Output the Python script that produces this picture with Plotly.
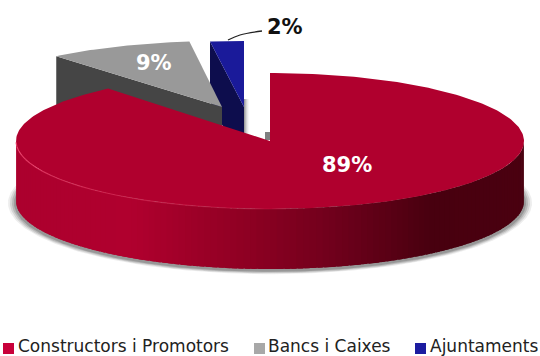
import numpy as np
import plotly.graph_objects as go

# Shares of each group, in percent
categories = ["Constructors i Promotors", "Bancs i Caixes", "Ajuntaments"]
shares = [89, 9, 2]
share_labels = ["89%", "9%", "2%"]

top_colors = ["#B0002E", "#999999", "#1A1A9A"]
cut_colors = ["#8B0022", "#454545", "#0D0D4D"]
swatch_colors = ["#C8003A", "#A8A8A8", "#1C1CA0"]

# Pie geometry on a pixel-sized canvas
W, H = 540, 356
CX, CY, RX, RY = 270, 141, 254, 68
DEPTH = 60
explode = [(0, 0), (-48, -34), (-26, -34)]
slice_radius = [(RX, RY), (260, 66), (271, 66)]

fracs = np.array(shares) / sum(shares)
ends = np.cumsum(fracs) * 2 * np.pi
starts = ends - fracs * 2 * np.pi


def rim(t0, t1, dx=0, dy=0, rx=RX, ry=RY, n=160):
    t = np.linspace(t0, t1, n)
    return CX + dx + rx * np.sin(t), CY + dy - ry * np.cos(t)


def poly(xs, ys, color, opacity=1.0):
    return go.Scatter(
        x=list(xs), y=list(ys), mode="lines", fill="toself", fillcolor=color,
        line=dict(width=0, color=color), opacity=opacity,
        hoverinfo="skip", showlegend=False,
    )


def lerp_color(stops, pos):
    xs = [s[0] for s in stops]
    rgb = [np.interp(pos, xs, [s[1][i] for s in stops]) for i in range(3)]
    return "rgb(%d,%d,%d)" % tuple(int(round(v)) for v in rgb)


fig = go.Figure()

# Soft ground shadow below the main slice
for grow, alpha in [(8, 0.10), (6, 0.16), (4, 0.22), (2, 0.30)]:
    t = np.linspace(0.3 * np.pi, 1.7 * np.pi, 240)
    sx = CX + (RX + grow) * np.sin(t)
    sy = CY + DEPTH + 2 + (RY + grow * 0.4) * -np.cos(t)
    fig.add_trace(poly(sx, sy, "#505050", alpha))

# Faint shadows in the gap next to the exploded slices
bx = CX + explode[2][0]
by = CY + explode[2][1]
for i, alpha in enumerate([0.6, 0.42, 0.26, 0.14, 0.06]):
    fig.add_trace(poly([bx + i, bx + i + 1, bx + i + 1, bx + i],
                       [by - 8, by - 8, by + 27, by + 27], "#606060", alpha))
fig.add_trace(poly([CX - 5, CX, CX, CX - 5], [CY - 9, CY - 9, CY - 1, CY - 1], "#808080"))

# Exploded slices, back to front: blue first, then grey over it
for idx in (2, 1):
    dx, dy = explode[idx]
    srx, sry = slice_radius[idx]
    ax, ay = CX + dx, CY + dy
    ox, oy = rim(starts[idx], ends[idx], dx, dy, srx, sry, 40)
    # Cut face running from the apex to the leading rim point
    fig.add_trace(poly([ox[0], ax, ax, ox[0]],
                       [oy[0], ay, ay + DEPTH, oy[0] + DEPTH], cut_colors[idx]))
    fig.add_trace(poly(np.r_[ax, ox], np.r_[ay, oy], top_colors[idx]))

# Outer wall of the main slice, shaded from left to right
wall_stops = [
    (16, (172, 0, 46)), (130, (176, 0, 46)), (250, (140, 0, 34)),
    (330, (112, 0, 28)), (430, (72, 0, 15)), (524, (74, 0, 16)),
]
steps = np.linspace(np.pi / 2, 3 * np.pi / 2, 121)
for i in range(len(steps) - 1):
    t = np.linspace(steps[i], min(steps[i + 1] + 0.02, 3 * np.pi / 2), 5)
    wx = CX + RX * np.sin(t)
    wy = CY - RY * np.cos(t)
    fig.add_trace(poly(np.r_[wx, wx[::-1]], np.r_[wy, wy[::-1] + DEPTH],
                       lerp_color(wall_stops, wx.mean())))

# Top of the main slice
rx, ry = rim(starts[0], ends[0], n=300)
fig.add_trace(poly(np.r_[CX, rx], np.r_[CY, ry], top_colors[0]))

# Light catching the front edge, fading towards the middle
glow = np.linspace(3 * np.pi / 2 - 0.02, np.pi * 0.98, 26)
for i in range(len(glow) - 1):
    t = np.linspace(glow[i], glow[i + 1], 4)
    fig.add_trace(go.Scatter(
        x=CX + RX * np.sin(t), y=CY - RY * np.cos(t), mode="lines",
        line=dict(color="#F0406C", width=1.2),
        opacity=0.85 * (1 - i / 30), hoverinfo="skip", showlegend=False,
    ))

# Leader line for the smallest slice
fig.add_trace(go.Scatter(x=[228, 240, 262], y=[40, 35, 31], mode="lines",
                         line=dict(color="#222222", width=1.3, shape="spline"),
                         hoverinfo="skip", showlegend=False))

# Legend row
legend_x = [8.5, 259.5, 420.5]
text_x = [16, 266, 428]
fig.add_trace(go.Scatter(
    x=legend_x, y=[348.5] * 3, mode="markers",
    marker=dict(symbol="square", size=11, color=swatch_colors),
    hoverinfo="skip", showlegend=False,
))

annotations = [
    dict(x=x, y=346, text=c, xanchor="left", yanchor="middle", showarrow=False,
         font=dict(family="DejaVu Sans", size=17, color="#222222"))
    for x, c in zip(text_x, categories)
]
label_pos = [(347, 165, "white"), (154, 63, "white"), (285, 27, "#111111")]
for (x, y, col), txt in zip(label_pos, share_labels):
    annotations.append(dict(x=x, y=y, text="<b>%s</b>" % txt, showarrow=False,
                            font=dict(family="DejaVu Sans", size=21, color=col)))

fig.update_layout(
    width=W, height=H, margin=dict(l=0, r=0, t=0, b=0),
    paper_bgcolor="white", plot_bgcolor="white", showlegend=False,
    xaxis=dict(range=[0, W], visible=False, fixedrange=True),
    yaxis=dict(range=[H, 0], visible=False, fixedrange=True),
    annotations=annotations,
)

fig.write_html("out.html", config=dict(displayModeBar=False))
